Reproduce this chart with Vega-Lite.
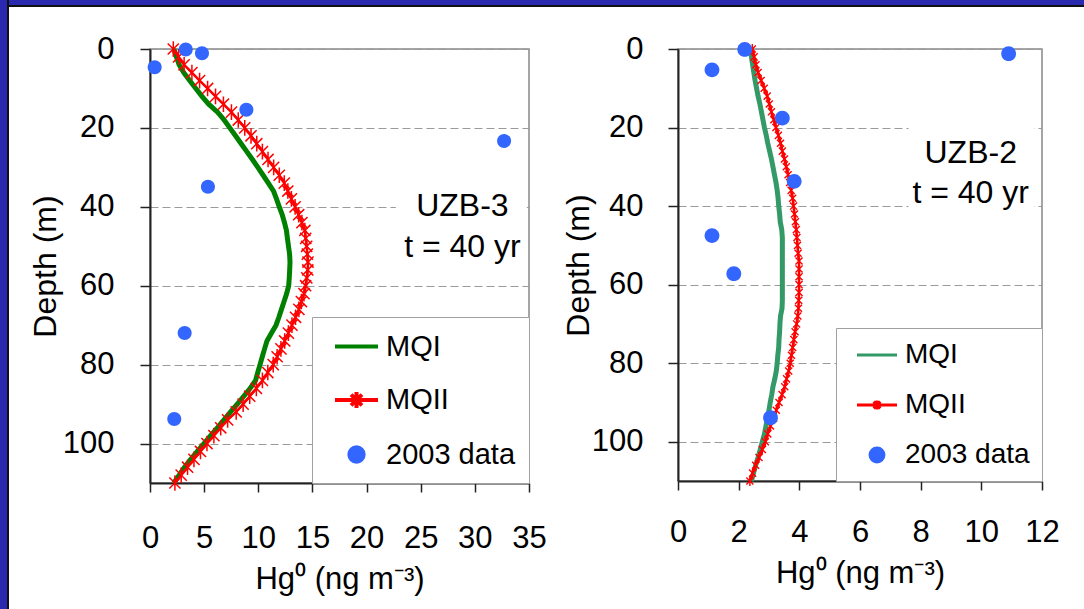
{
  "$schema": "https://vega.github.io/schema/vega-lite/v6.json",
  "padding": 0,
  "background": "white",
  "config": {
    "font": "Liberation Sans",
    "view": {"stroke": "#888888", "strokeWidth": 1.5},
    "axis": {"labelFontSize": 31, "titleFontSize": 31, "labelColor": "black", "titleColor": "black", "titleFontWeight": "normal", "domainColor": "#222222", "tickColor": "#222222", "domainWidth": 2, "tickWidth": 1.5, "labelFlush": false, "labelOverlap": false},
    "legend": {"labelColor": "black", "labelLimit": 400, "symbolOpacity": 1, "symbolFillColor": "#3366ff"}
  },
  "datasets": {
    "uzb3": [
      {"series":"MQI","depth":0,"hg":2.2},{"series":"MQI","depth":2,"hg":2.44},{"series":"MQI","depth":4,"hg":2.69},{"series":"MQI","depth":6,"hg":3.12},{"series":"MQI","depth":8,"hg":3.66},{"series":"MQI","depth":10,"hg":4.23},{"series":"MQI","depth":12,"hg":4.8},{"series":"MQI","depth":14,"hg":5.42},{"series":"MQI","depth":16,"hg":6.24},{"series":"MQI","depth":18,"hg":6.85},{"series":"MQI","depth":20,"hg":7.37},{"series":"MQI","depth":22,"hg":7.9},{"series":"MQI","depth":24,"hg":8.42},{"series":"MQI","depth":26,"hg":8.94},{"series":"MQI","depth":28,"hg":9.46},{"series":"MQI","depth":30,"hg":9.96},{"series":"MQI","depth":32,"hg":10.45},{"series":"MQI","depth":34,"hg":10.93},{"series":"MQI","depth":36,"hg":11.41},{"series":"MQI","depth":38,"hg":11.68},{"series":"MQI","depth":40,"hg":11.94},{"series":"MQI","depth":42,"hg":12.21},{"series":"MQI","depth":44,"hg":12.42},{"series":"MQI","depth":46,"hg":12.6},{"series":"MQI","depth":48,"hg":12.69},{"series":"MQI","depth":50,"hg":12.79},{"series":"MQI","depth":52,"hg":12.89},{"series":"MQI","depth":54,"hg":12.93},{"series":"MQI","depth":56,"hg":12.9},{"series":"MQI","depth":58,"hg":12.86},{"series":"MQI","depth":60,"hg":12.81},{"series":"MQI","depth":62,"hg":12.62},{"series":"MQI","depth":64,"hg":12.38},{"series":"MQI","depth":66,"hg":12.14},{"series":"MQI","depth":68,"hg":11.9},{"series":"MQI","depth":70,"hg":11.64},{"series":"MQI","depth":72,"hg":11.22},{"series":"MQI","depth":74,"hg":10.8},{"series":"MQI","depth":76,"hg":10.58},{"series":"MQI","depth":78,"hg":10.37},{"series":"MQI","depth":80,"hg":10.16},{"series":"MQI","depth":82,"hg":9.95},{"series":"MQI","depth":84,"hg":9.75},{"series":"MQI","depth":86,"hg":9.25},{"series":"MQI","depth":88,"hg":8.66},{"series":"MQI","depth":90,"hg":8.06},{"series":"MQI","depth":92,"hg":7.44},{"series":"MQI","depth":94,"hg":6.83},{"series":"MQI","depth":96,"hg":6.22},{"series":"MQI","depth":98,"hg":5.6},{"series":"MQI","depth":100,"hg":4.98},{"series":"MQI","depth":102,"hg":4.37},{"series":"MQI","depth":104,"hg":3.76},{"series":"MQI","depth":106,"hg":3.19},{"series":"MQI","depth":108,"hg":2.69},{"series":"MQI","depth":110,"hg":2.2},
      {"series":"MQII","depth":0,"hg":2.15},{"series":"MQII","depth":2,"hg":2.64},{"series":"MQII","depth":4,"hg":3.15},{"series":"MQII","depth":6,"hg":3.87},{"series":"MQII","depth":8,"hg":4.58},{"series":"MQII","depth":10,"hg":5.32},{"series":"MQII","depth":12,"hg":6.05},{"series":"MQII","depth":14,"hg":6.78},{"series":"MQII","depth":16,"hg":7.52},{"series":"MQII","depth":18,"hg":8.15},{"series":"MQII","depth":20,"hg":8.75},{"series":"MQII","depth":22,"hg":9.33},{"series":"MQII","depth":24,"hg":9.86},{"series":"MQII","depth":26,"hg":10.38},{"series":"MQII","depth":28,"hg":10.9},{"series":"MQII","depth":30,"hg":11.42},{"series":"MQII","depth":32,"hg":11.94},{"series":"MQII","depth":34,"hg":12.4},{"series":"MQII","depth":36,"hg":12.73},{"series":"MQII","depth":38,"hg":13.06},{"series":"MQII","depth":40,"hg":13.4},{"series":"MQII","depth":42,"hg":13.73},{"series":"MQII","depth":44,"hg":14.03},{"series":"MQII","depth":46,"hg":14.3},{"series":"MQII","depth":48,"hg":14.38},{"series":"MQII","depth":50,"hg":14.47},{"series":"MQII","depth":52,"hg":14.53},{"series":"MQII","depth":54,"hg":14.59},{"series":"MQII","depth":56,"hg":14.57},{"series":"MQII","depth":58,"hg":14.48},{"series":"MQII","depth":60,"hg":14.37},{"series":"MQII","depth":62,"hg":14.22},{"series":"MQII","depth":64,"hg":13.98},{"series":"MQII","depth":66,"hg":13.75},{"series":"MQII","depth":68,"hg":13.44},{"series":"MQII","depth":70,"hg":13.11},{"series":"MQII","depth":72,"hg":12.78},{"series":"MQII","depth":74,"hg":12.44},{"series":"MQII","depth":76,"hg":12.09},{"series":"MQII","depth":78,"hg":11.74},{"series":"MQII","depth":80,"hg":11.38},{"series":"MQII","depth":82,"hg":10.88},{"series":"MQII","depth":84,"hg":10.38},{"series":"MQII","depth":86,"hg":9.82},{"series":"MQII","depth":88,"hg":9.21},{"series":"MQII","depth":90,"hg":8.6},{"series":"MQII","depth":92,"hg":7.96},{"series":"MQII","depth":94,"hg":7.17},{"series":"MQII","depth":96,"hg":6.53},{"series":"MQII","depth":98,"hg":5.9},{"series":"MQII","depth":100,"hg":5.26},{"series":"MQII","depth":102,"hg":4.66},{"series":"MQII","depth":104,"hg":4.06},{"series":"MQII","depth":106,"hg":3.47},{"series":"MQII","depth":108,"hg":2.88},{"series":"MQII","depth":110,"hg":2.3},
      {"series":"2003 data","depth":0.1,"hg":3.3},{"series":"2003 data","depth":1.1,"hg":4.8},{"series":"2003 data","depth":4.6,"hg":0.43},{"series":"2003 data","depth":15.4,"hg":8.9},{"series":"2003 data","depth":23.3,"hg":32.7},{"series":"2003 data","depth":34.9,"hg":5.35},{"series":"2003 data","depth":72,"hg":3.2},{"series":"2003 data","depth":93.8,"hg":2.24}
    ],
    "uzb2": [
      {"series":"MQI","depth":0,"hg":2.4},{"series":"MQI","depth":2,"hg":2.42},{"series":"MQI","depth":4,"hg":2.46},{"series":"MQI","depth":6,"hg":2.5},{"series":"MQI","depth":8,"hg":2.54},{"series":"MQI","depth":10,"hg":2.59},{"series":"MQI","depth":12,"hg":2.64},{"series":"MQI","depth":14,"hg":2.7},{"series":"MQI","depth":16,"hg":2.75},{"series":"MQI","depth":18,"hg":2.8},{"series":"MQI","depth":20,"hg":2.85},{"series":"MQI","depth":22,"hg":2.91},{"series":"MQI","depth":24,"hg":2.96},{"series":"MQI","depth":26,"hg":3.02},{"series":"MQI","depth":28,"hg":3.08},{"series":"MQI","depth":30,"hg":3.13},{"series":"MQI","depth":32,"hg":3.18},{"series":"MQI","depth":34,"hg":3.23},{"series":"MQI","depth":36,"hg":3.27},{"series":"MQI","depth":38,"hg":3.3},{"series":"MQI","depth":40,"hg":3.32},{"series":"MQI","depth":42,"hg":3.35},{"series":"MQI","depth":44,"hg":3.37},{"series":"MQI","depth":46,"hg":3.42},{"series":"MQI","depth":48,"hg":3.44},{"series":"MQI","depth":50,"hg":3.44},{"series":"MQI","depth":52,"hg":3.44},{"series":"MQI","depth":54,"hg":3.44},{"series":"MQI","depth":56,"hg":3.44},{"series":"MQI","depth":58,"hg":3.44},{"series":"MQI","depth":60,"hg":3.44},{"series":"MQI","depth":62,"hg":3.44},{"series":"MQI","depth":64,"hg":3.44},{"series":"MQI","depth":66,"hg":3.43},{"series":"MQI","depth":68,"hg":3.38},{"series":"MQI","depth":70,"hg":3.36},{"series":"MQI","depth":72,"hg":3.35},{"series":"MQI","depth":74,"hg":3.33},{"series":"MQI","depth":76,"hg":3.32},{"series":"MQI","depth":78,"hg":3.29},{"series":"MQI","depth":80,"hg":3.27},{"series":"MQI","depth":82,"hg":3.24},{"series":"MQI","depth":84,"hg":3.19},{"series":"MQI","depth":86,"hg":3.13},{"series":"MQI","depth":88,"hg":3.09},{"series":"MQI","depth":90,"hg":3.04},{"series":"MQI","depth":92,"hg":3.0},{"series":"MQI","depth":94,"hg":2.95},{"series":"MQI","depth":96,"hg":2.9},{"series":"MQI","depth":98,"hg":2.85},{"series":"MQI","depth":100,"hg":2.78},{"series":"MQI","depth":102,"hg":2.71},{"series":"MQI","depth":104,"hg":2.64},{"series":"MQI","depth":106,"hg":2.56},{"series":"MQI","depth":108,"hg":2.49},{"series":"MQI","depth":110,"hg":2.42},
      {"series":"MQII","depth":0,"hg":2.45},{"series":"MQII","depth":2,"hg":2.51},{"series":"MQII","depth":4,"hg":2.57},{"series":"MQII","depth":6,"hg":2.64},{"series":"MQII","depth":8,"hg":2.74},{"series":"MQII","depth":10,"hg":2.84},{"series":"MQII","depth":12,"hg":2.94},{"series":"MQII","depth":14,"hg":3.01},{"series":"MQII","depth":16,"hg":3.08},{"series":"MQII","depth":18,"hg":3.16},{"series":"MQII","depth":20,"hg":3.23},{"series":"MQII","depth":22,"hg":3.31},{"series":"MQII","depth":24,"hg":3.38},{"series":"MQII","depth":26,"hg":3.44},{"series":"MQII","depth":28,"hg":3.51},{"series":"MQII","depth":30,"hg":3.57},{"series":"MQII","depth":32,"hg":3.63},{"series":"MQII","depth":34,"hg":3.68},{"series":"MQII","depth":36,"hg":3.73},{"series":"MQII","depth":38,"hg":3.78},{"series":"MQII","depth":40,"hg":3.81},{"series":"MQII","depth":42,"hg":3.84},{"series":"MQII","depth":44,"hg":3.87},{"series":"MQII","depth":46,"hg":3.9},{"series":"MQII","depth":48,"hg":3.92},{"series":"MQII","depth":50,"hg":3.94},{"series":"MQII","depth":52,"hg":3.96},{"series":"MQII","depth":54,"hg":3.99},{"series":"MQII","depth":56,"hg":3.99},{"series":"MQII","depth":58,"hg":3.99},{"series":"MQII","depth":60,"hg":3.99},{"series":"MQII","depth":62,"hg":3.99},{"series":"MQII","depth":64,"hg":3.98},{"series":"MQII","depth":66,"hg":3.97},{"series":"MQII","depth":68,"hg":3.95},{"series":"MQII","depth":70,"hg":3.91},{"series":"MQII","depth":72,"hg":3.86},{"series":"MQII","depth":74,"hg":3.82},{"series":"MQII","depth":76,"hg":3.78},{"series":"MQII","depth":78,"hg":3.74},{"series":"MQII","depth":80,"hg":3.7},{"series":"MQII","depth":82,"hg":3.65},{"series":"MQII","depth":84,"hg":3.58},{"series":"MQII","depth":86,"hg":3.52},{"series":"MQII","depth":88,"hg":3.43},{"series":"MQII","depth":90,"hg":3.33},{"series":"MQII","depth":92,"hg":3.24},{"series":"MQII","depth":94,"hg":3.15},{"series":"MQII","depth":96,"hg":3.05},{"series":"MQII","depth":98,"hg":2.96},{"series":"MQII","depth":100,"hg":2.88},{"series":"MQII","depth":102,"hg":2.78},{"series":"MQII","depth":104,"hg":2.67},{"series":"MQII","depth":106,"hg":2.56},{"series":"MQII","depth":108,"hg":2.46},{"series":"MQII","depth":110,"hg":2.37},
      {"series":"2003 data","depth":0.1,"hg":2.2},{"series":"2003 data","depth":1.2,"hg":10.9},{"series":"2003 data","depth":5.3,"hg":1.12},{"series":"2003 data","depth":17.6,"hg":3.44},{"series":"2003 data","depth":33.7,"hg":3.83},{"series":"2003 data","depth":47.5,"hg":1.12},{"series":"2003 data","depth":57.2,"hg":1.84},{"series":"2003 data","depth":93.9,"hg":3.05}
    ]
  },
  "spacing": 0,
  "hconcat": [
    {"width": 7, "height": 609, "data": {"values": []}, "mark": "point", "encoding": {}, "view": {"fill": "#2a2ab0", "stroke": null}},
    {"width": 2, "height": 609, "data": {"values": []}, "mark": "point", "encoding": {}, "view": {"fill": "#111111", "stroke": null}},
    {
      "spacing": 25,
      "vconcat": [
        {
          "spacing": 0,
          "vconcat": [
            {"width": 1075, "height": 5, "data": {"values": []}, "mark": "point", "encoding": {}, "view": {"fill": "#2a2ab0", "stroke": null}},
            {"width": 1075, "height": 2, "data": {"values": []}, "mark": "point", "encoding": {}, "view": {"fill": "#111111", "stroke": null}}
          ]
        },
        {
          "spacing": 14,
          "resolve": {"scale": {"color": "independent", "shape": "independent", "strokeWidth": "independent"}, "legend": {"color": "independent", "shape": "independent"}},
          "hconcat": [
            {"width": 5, "height": 10, "data": {"values": []}, "mark": "point", "encoding": {}, "view": {"stroke": null}},
            {
              "width": 379,
              "height": 434,
              "data": {"name": "uzb3"},
              "layer": [
                {
                  "data": {"values": [{}]},
                  "mark": {"type": "rect", "fill": "white", "stroke": null},
                  "encoding": {
                    "x": {"datum": 22.7, "type": "quantitative", "scale": {"domain": [0, 35]}}, "x2": {"datum": 34.8},
                    "y": {"datum": 31, "type": "quantitative", "scale": {"domain": [0, 110]}}, "y2": {"datum": 56}
                  }
                },
                {
                  "transform": [{"filter": "datum.series !== '2003 data'"}],
                  "mark": {"type": "line"},
                  "encoding": {
                    "x": {"field": "hg", "type": "quantitative", "scale": {"domain": [0, 35], "nice": false, "zero": false},
                      "axis": {"values": [0, 5, 10, 15, 20, 25, 30, 35], "title": "Hg⁰ (ng m⁻³)", "grid": false, "tickSize": 9, "labelPadding": 31, "titlePadding": 11}},
                    "y": {"field": "depth", "type": "quantitative", "scale": {"domain": [0, 110], "reverse": true, "nice": false, "zero": false},
                      "axis": {"values": [0, 20, 40, 60, 80, 100], "title": "Depth (m)", "titleFontSize": 32, "titlePadding": 0, "labelPadding": 26, "tickSize": 10, "grid": true, "gridColor": "#9a9a9a", "gridDash": [8, 4], "gridWidth": 1}},
                    "order": {"field": "depth", "type": "quantitative"},
                    "color": {"field": "series", "type": "nominal",
                      "scale": {"domain": ["MQI", "MQII", "2003 data"], "range": ["#008000", "#ff0000", "#3366ff"]},
                      "legend": {"title": null, "orient": "bottom-right", "offset": 0, "padding": 13, "rowPadding": 21.5, "labelFontSize": 29, "labelOffset": 13, "symbolOffset": 15, "symbolSize": 823, "symbolStrokeWidth": 4, "fillColor": "white", "strokeColor": "#a0a0a0"}},
                    "strokeWidth": {"field": "series", "type": "ordinal", "scale": {"domain": ["MQI", "MQII"], "range": [5, 2.5]}, "legend": null}
                  }
                },
                {
                  "transform": [{"filter": "datum.series === 'MQII'"}],
                  "mark": {"type": "point", "shape": "M-1,-1L1,1M-1,1L1,-1M0,-1.4V1.4", "filled": false, "size": 125, "strokeWidth": 1.5, "opacity": 1},
                  "encoding": {
                    "x": {"field": "hg", "type": "quantitative", "scale": {"domain": [0, 35]}},
                    "y": {"field": "depth", "type": "quantitative", "scale": {"domain": [0, 110]}},
                    "color": {"field": "series", "type": "nominal"}
                  }
                },
                {
                  "transform": [{"filter": "datum.series === '2003 data'"}],
                  "mark": {"type": "point", "filled": true, "size": 784, "opacity": 1},
                  "encoding": {
                    "x": {"field": "hg", "type": "quantitative", "scale": {"domain": [0, 35]}},
                    "y": {"field": "depth", "type": "quantitative", "scale": {"domain": [0, 110]}},
                    "color": {"field": "series", "type": "nominal"},
                    "shape": {"field": "series", "type": "nominal",
                      "scale": {"domain": ["MQI", "MQII", "2003 data"], "range": ["M-1.5,0H1.5", "M-1.5,0H1.5M-0.38,-0.38L0.38,0.38M-0.38,0.38L0.38,-0.38M0,-0.55V0.55", "M-0.5,0A0.5,0.5 0 1,0 0.5,0A0.5,0.5 0 1,0 -0.5,0Z"]},
                      "legend": {"title": null}}
                  }
                },
                {
                  "data": {"values": [{}]},
                  "mark": {"type": "text", "fontSize": 32, "align": "center", "baseline": "middle", "color": "black"},
                  "encoding": {"x": {"datum": 28.85, "type": "quantitative", "scale": {"domain": [0, 35]}}, "y": {"datum": 39.7, "type": "quantitative", "scale": {"domain": [0, 110]}}, "text": {"value": "UZB-3"}}
                },
                {
                  "data": {"values": [{}]},
                  "mark": {"type": "text", "fontSize": 32, "align": "center", "baseline": "middle", "color": "black"},
                  "encoding": {"x": {"datum": 28.85, "type": "quantitative", "scale": {"domain": [0, 35]}}, "y": {"datum": 50.1, "type": "quantitative", "scale": {"domain": [0, 110]}}, "text": {"value": "t = 40 yr"}}
                }
              ]
            },
            {
              "width": 364,
              "height": 432,
              "data": {"name": "uzb2"},
              "layer": [
                {
                  "data": {"values": [{}]},
                  "mark": {"type": "rect", "fill": "white", "stroke": null},
                  "encoding": {
                    "x": {"datum": 7.6, "type": "quantitative", "scale": {"domain": [0, 12]}}, "x2": {"datum": 11.75},
                    "y": {"datum": 14, "type": "quantitative", "scale": {"domain": [0, 110]}}, "y2": {"datum": 46}
                  }
                },
                {
                  "transform": [{"filter": "datum.series !== '2003 data'"}],
                  "mark": {"type": "line"},
                  "encoding": {
                    "x": {"field": "hg", "type": "quantitative", "scale": {"domain": [0, 12], "nice": false, "zero": false},
                      "axis": {"values": [0, 2, 4, 6, 8, 10, 12], "title": "Hg⁰ (ng m⁻³)", "grid": false, "tickSize": 9, "labelPadding": 27, "titlePadding": 11}},
                    "y": {"field": "depth", "type": "quantitative", "scale": {"domain": [0, 110], "reverse": true, "nice": false, "zero": false},
                      "axis": {"values": [0, 20, 40, 60, 80, 100], "title": "Depth (m)", "titleFontSize": 32, "titlePadding": -4, "labelPadding": 25, "tickSize": 10, "grid": true, "gridColor": "#9a9a9a", "gridDash": [8, 4], "gridWidth": 1}},
                    "order": {"field": "depth", "type": "quantitative"},
                    "color": {"field": "series", "type": "nominal",
                      "scale": {"domain": ["MQI", "MQII", "2003 data"], "range": ["#339966", "#ff0000", "#3366ff"]},
                      "legend": {"title": null, "orient": "bottom-right", "offset": 0, "padding": 12, "rowPadding": 21, "labelFontSize": 28, "labelOffset": 13, "symbolOffset": 14, "symbolSize": 711, "symbolStrokeWidth": 3, "fillColor": "white", "strokeColor": "#a0a0a0"}},
                    "strokeWidth": {"field": "series", "type": "ordinal", "scale": {"domain": ["MQI", "MQII"], "range": [5, 2.5]}, "legend": null}
                  }
                },
                {
                  "transform": [{"filter": "datum.series === 'MQII'"}],
                  "mark": {"type": "point", "shape": "M-1,-1L1,1M-1,1L1,-1M0,-1.4V1.4", "filled": false, "size": 50, "strokeWidth": 1.4, "opacity": 1},
                  "encoding": {
                    "x": {"field": "hg", "type": "quantitative", "scale": {"domain": [0, 12]}},
                    "y": {"field": "depth", "type": "quantitative", "scale": {"domain": [0, 110]}},
                    "color": {"field": "series", "type": "nominal"}
                  }
                },
                {
                  "transform": [{"filter": "datum.series === '2003 data'"}],
                  "mark": {"type": "point", "filled": true, "size": 810, "opacity": 1},
                  "encoding": {
                    "x": {"field": "hg", "type": "quantitative", "scale": {"domain": [0, 12]}},
                    "y": {"field": "depth", "type": "quantitative", "scale": {"domain": [0, 110]}},
                    "color": {"field": "series", "type": "nominal"},
                    "shape": {"field": "series", "type": "nominal",
                      "scale": {"domain": ["MQI", "MQII", "2003 data"], "range": ["M-1.5,0H1.5", "M-1.5,0H1.5M-0.25,-0.25L0.25,0.25M-0.25,0.25L0.25,-0.25M0,-0.33V0.33", "M-0.52,0A0.52,0.52 0 1,0 0.52,0A0.52,0.52 0 1,0 -0.52,0Z"]},
                      "legend": {"title": null}}
                  }
                },
                {
                  "data": {"values": [{}]},
                  "mark": {"type": "text", "fontSize": 32, "align": "center", "baseline": "middle", "color": "black"},
                  "encoding": {"x": {"datum": 9.65, "type": "quantitative", "scale": {"domain": [0, 12]}}, "y": {"datum": 26.4, "type": "quantitative", "scale": {"domain": [0, 110]}}, "text": {"value": "UZB-2"}}
                },
                {
                  "data": {"values": [{}]},
                  "mark": {"type": "text", "fontSize": 32, "align": "center", "baseline": "middle", "color": "black"},
                  "encoding": {"x": {"datum": 9.65, "type": "quantitative", "scale": {"domain": [0, 12]}}, "y": {"datum": 36.7, "type": "quantitative", "scale": {"domain": [0, 110]}}, "text": {"value": "t = 40 yr"}}
                }
              ]
            }
          ]
        }
      ]
    }
  ]
}
